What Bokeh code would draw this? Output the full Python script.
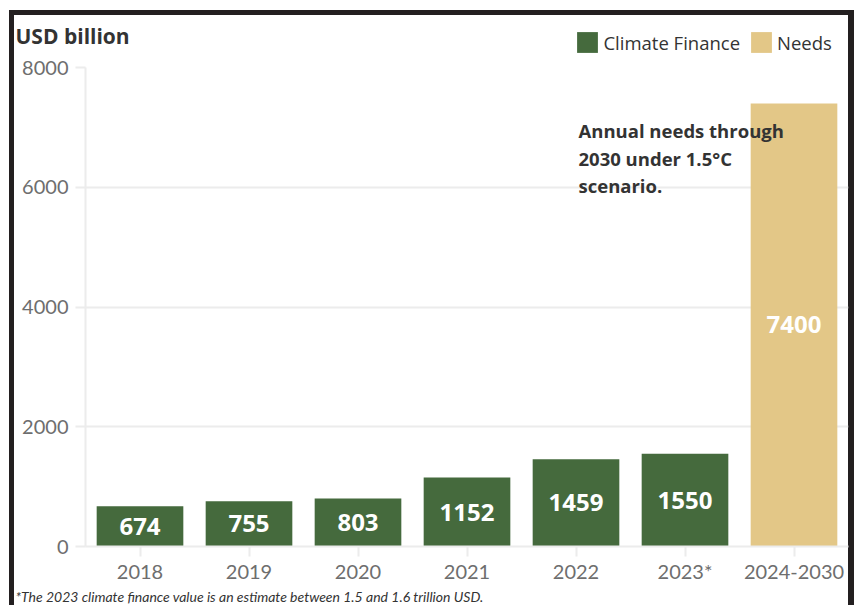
from bokeh.plotting import figure
from bokeh.layouts import column
from bokeh.models import (ColumnDataSource, FactorRange, Range1d, FixedTicker,
                          Label, LabelSet, Legend, LegendItem)
from bokeh.core.properties import value
from bokeh.embed import file_html
from bokeh.resources import INLINE

# ---- data ----
years = ["2018", "2019", "2020", "2021", "2022", "2023*"]
finance = [674, 755, 803, 1152, 1459, 1550]
needs_period = ["2024-2030"]
needs = [7400]
categories = years + needs_period
y_ticks = [0, 2000, 4000, 6000, 8000]

title_text = "USD billion"
legend_labels = ["Climate Finance", "Needs"]
note_lines = ["Annual needs through", "2030 under 1.5°C", "scenario."]
footnote_text = "*The 2023 climate finance value is an estimate between 1.5 and 1.6 trillion USD."

# ---- styles ----
GREEN = "#456a3d"
TAN = "#e3c787"
DARK = "#333333"
GRAY = "#6e6e6e"
LIGHT = "#ececec"
FRAME = "#231f20"
W = 859

fin_src = ColumnDataSource(dict(cat=years, val=finance,
                                mid=[v / 2 for v in finance],
                                txt=[str(v) for v in finance]))
need_src = ColumnDataSource(dict(cat=needs_period, val=needs,
                                 mid=[v / 2 for v in needs],
                                 txt=[str(v) for v in needs]))


def blank(h, x_range, y_range):
    f = figure(width=W, height=h, x_range=x_range, y_range=y_range,
               x_axis_type=None, y_axis_type=None, output_backend="svg",
               toolbar_location=None, min_border=0, frame_align=False)
    f.outline_line_color = None
    f.background_fill_alpha = 0
    f.border_fill_alpha = 0
    f.xgrid.visible = False
    f.ygrid.visible = False
    return f


# ---- main chart ----
p = figure(width=W, height=531, x_range=FactorRange(factors=categories),
           y_range=Range1d(0, 8000), output_backend="svg", toolbar_location=None,
           min_border_left=85, min_border_right=11, min_border_top=12,
           min_border_bottom=40, frame_align=False)

r1 = p.vbar(x="cat", top="val", width=0.795, source=fin_src,
            fill_color=GREEN, line_color=None)
r2 = p.vbar(x="cat", top="val", width=0.795, source=need_src,
            fill_color=TAN, line_color=None)

for src in (fin_src, need_src):
    p.add_layout(LabelSet(x="cat", y="mid", text="txt", source=src,
                          text_align="center", text_baseline="middle",
                          text_color="white", text_font_style="bold",
                          text_font=value("Open Sans"),
                          text_font_size=value("24px")))

for ax in (p.xaxis[0], p.yaxis[0]):
    ax.axis_line_color = LIGHT
    ax.axis_line_width = 2
    ax.major_tick_line_color = LIGHT
    ax.major_tick_line_width = 2
    ax.major_tick_out = 10
    ax.major_tick_in = 0
    ax.minor_tick_line_color = None
    ax.major_label_text_font = "Lato"
    ax.major_label_text_font_size = "20px"
    ax.major_label_text_color = GRAY
p.xaxis.major_label_standoff = 2
p.yaxis.major_label_standoff = 7
p.yaxis.ticker = FixedTicker(ticks=y_ticks)

p.xgrid.grid_line_color = None
p.ygrid.grid_line_color = LIGHT
p.ygrid.grid_line_width = 2
p.outline_line_color = None
p.background_fill_alpha = 0
p.border_fill_alpha = 0

for line, yy in zip(note_lines, [416, 387.7, 361]):
    p.add_layout(Label(x=493, y=yy, x_units="screen", y_units="screen",
                       text=line, text_font="Open Sans", text_font_style="bold",
                       text_font_size="18.5px", text_color=DARK,
                       text_baseline="middle"))

# ---- header: title and legend (legend swatches use hidden proxies) ----
head = blank(55, FactorRange(factors=categories), Range1d(20000, 20001))
h1 = head.vbar(x="cat", top="val", width=0.795, source=fin_src,
               fill_color=GREEN, line_color=None, visible=False)
h2 = head.vbar(x="cat", top="val", width=0.795, source=need_src,
               fill_color=TAN, line_color=None, visible=False)
legend = Legend(items=[LegendItem(label=legend_labels[0], renderers=[h1]),
                       LegendItem(label=legend_labels[1], renderers=[h2])],
                location=(574.4, 0), orientation="horizontal",
                glyph_width=26, glyph_height=26, label_standoff=3, spacing=8,
                padding=0, margin=0, border_line_color=None,
                background_fill_alpha=0, inactive_fill_alpha=0,
                label_text_font="Open Sans", label_text_font_size="18.5px",
                label_text_color=DARK)
head.add_layout(legend)
head.add_layout(Label(x=15, y=20, x_units="screen", y_units="screen",
                      text=title_text, text_font="Open Sans",
                      text_font_style="bold", text_font_size="21px",
                      text_color=DARK, text_baseline="middle"))

# ---- footer: footnote ----
foot = blank(19, Range1d(0, 1), Range1d(0, 1))
foot.add_layout(Label(x=15, y=9.4, x_units="screen", y_units="screen",
                      text=footnote_text, text_font="Lato",
                      text_font_style="italic", text_font_size="14px",
                      text_color=DARK, text_baseline="middle"))

layout = column(head, p, foot, spacing=0)
layout.styles = {
    "background-image": ", ".join([f"linear-gradient({FRAME}, {FRAME})"] * 3),
    "background-size": "845px 5px, 5px 595px, 6px 595px",
    "background-position": "9px 10px, 9px 10px, 848px 10px",
    "background-repeat": "no-repeat",
}

open("out.html", "w").write(file_html(layout, INLINE))
